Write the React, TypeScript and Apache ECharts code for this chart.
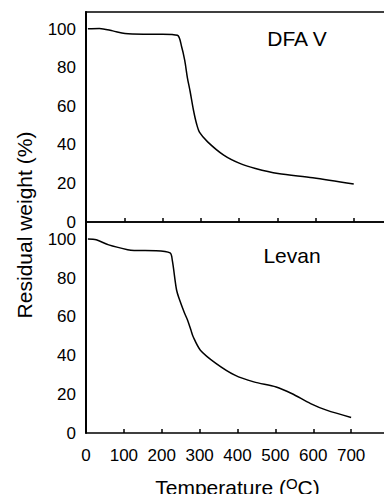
import React, { useEffect, useRef } from "react";
import * as echarts from "echarts";

const dfaTemp = [5, 35, 70, 102, 150, 200, 239, 250, 258, 265, 272, 281, 289, 297, 318, 360, 402, 443, 502, 593, 700];
const dfaWeight = [100.3, 100.5, 99.2, 97.8, 97.5, 97.5, 96.9, 91, 84, 75, 68, 58, 51, 46.5, 41.6, 34.7, 30.4, 27.8, 25.2, 23, 19.7];

const levanTemp = [5, 27, 60, 110, 127, 185, 222, 228, 239, 247, 260, 268, 277, 283, 302, 343, 393, 443, 502, 543, 593, 635, 700];
const levanWeight = [100.2, 99.8, 97.2, 94.7, 94.3, 94.2, 93, 89, 74, 68.8, 62, 58.4, 53.2, 49.7, 42.8, 36, 29.9, 26.4, 23.8, 20.4, 15.2, 11.8, 8];

const yTicks = [0, 20, 40, 60, 80, 100];
const xTicks = [0, 100, 200, 300, 400, 500, 600, 700];

const FONT = "Liberation Sans, Arial, Helvetica, sans-serif";

export default function App() {
  const ref = useRef<HTMLDivElement>(null);
  useEffect(() => {
    if (!ref.current) return;
    const chart = echarts.init(ref.current, null, { renderer: "svg" });
    const pair = (xs: number[], ys: number[]) => xs.map((x, i) => [x, ys[i]]);
    const yAxisBase = (gridIndex: number) => ({
      type: "value",
      gridIndex,
      min: 0,
      max: 109,
      interval: 20,
      axisLine: { show: true, lineStyle: { color: "#000", width: 2 } },
      axisTick: { show: false },
      splitLine: { show: false },
      axisLabel: {
        color: "#000",
        fontSize: 17,
        lineHeight: 14,
        fontFamily: FONT,
        margin: 10,
        formatter: (v: number) => (yTicks.includes(v) ? String(v) : ""),
      },
    });
    const xAxisBase = (gridIndex: number, showLabels: boolean) => ({
      type: "value",
      gridIndex,
      min: 0,
      max: 800,
      interval: 100,
      axisLine: { show: true, onZero: false, lineStyle: { color: "#000", width: 1.5 } },
      axisTick: { show: true, inside: true, length: 4, lineStyle: { color: "#000", width: 1.5 } },
      splitLine: { show: false },
      axisLabel: {
        show: showLabels,
        color: "#000",
        fontSize: 17,
        fontFamily: FONT,
        margin: 14,
        formatter: (v: number) => (xTicks.includes(v) ? String(v) : ""),
      },
    });
    chart.setOption({
      animation: false,
      backgroundColor: "#fff",
      grid: [
        { left: 86, top: 12, right: -14, height: 210, show: true, borderColor: "#000", borderWidth: 1.5, backgroundColor: "transparent" },
        { left: 86, top: 222, right: -14, height: 211 },
      ],
      xAxis: [
        xAxisBase(0, false),
        {
          ...xAxisBase(1, true),
          name: "Temperature ({sup|O}C)",
          nameLocation: "middle",
          nameGap: 43,
          nameTextStyle: {
            color: "#000",
            fontSize: 21,
            lineHeight: 22,
            fontFamily: FONT,
            rich: {
              sup: { fontSize: 15, fontFamily: FONT, color: "#000", verticalAlign: "top", lineHeight: 22, padding: [0, 0, 6, 0] },
            },
          },
        },
      ],
      yAxis: [yAxisBase(0), yAxisBase(1)],
      graphic: [
        {
          type: "text",
          x: 24,
          y: 225,
          rotation: Math.PI / 2,
          style: {
            text: "Residual weight (%)",
            fontSize: 21,
            fontFamily: FONT,
            fill: "#000",
            textAlign: "center",
            textVerticalAlign: "middle",
          },
        },
        {
          type: "text",
          x: 297,
          y: 38,
          style: { text: "DFA V", fontSize: 21, fontFamily: FONT, fill: "#000", textAlign: "center", textVerticalAlign: "middle" },
        },
        {
          type: "text",
          x: 292,
          y: 255,
          style: { text: "Levan", fontSize: 21, fontFamily: FONT, fill: "#000", textAlign: "center", textVerticalAlign: "middle" },
        },
      ],
      series: [
        {
          type: "line",
          xAxisIndex: 0,
          yAxisIndex: 0,
          data: pair(dfaTemp, dfaWeight),
          smooth: 0.3,
          showSymbol: false,
          lineStyle: { color: "#000", width: 1.5 },
        },
        {
          type: "line",
          xAxisIndex: 1,
          yAxisIndex: 1,
          data: pair(levanTemp, levanWeight),
          smooth: 0.3,
          showSymbol: false,
          lineStyle: { color: "#000", width: 1.5 },
        },
      ],
    });
    return () => chart.dispose();
  }, []);
  return <div ref={ref} style={{ width: 392, height: 502, margin: -8, overflow: "hidden" }} />;
}
